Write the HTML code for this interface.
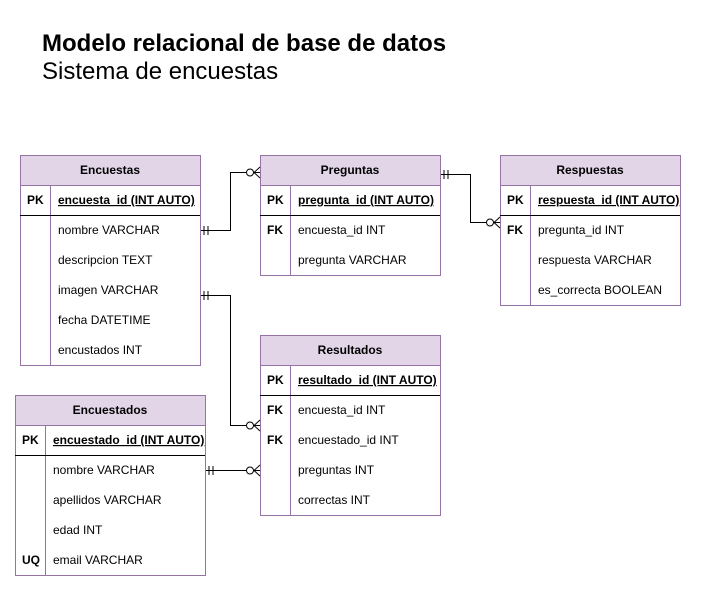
<!DOCTYPE html>
<html><head><meta charset="utf-8"><style>
body{margin:0;background:#fff;width:716px;height:591px;overflow:hidden}
svg{display:block;font-family:"Liberation Sans",Arial,sans-serif}
.h{fill:#e1d5e7;stroke:#9673a6}
.b{fill:#fff;stroke:#9673a6}
.t{font-size:12px;fill:#000}
.hd{font-size:12px;font-weight:bold;text-anchor:middle}
.k{font-size:12px;font-weight:bold}
.u{font-size:12px;font-weight:bold;text-decoration:underline}
.l{stroke:#000;fill:none;stroke-width:1}
</style></head><body>
<svg width="716" height="591" viewBox="0 0 716 591">
<text x="42" y="51" font-size="24" font-weight="bold">Modelo relacional de base de datos</text>
<text x="42" y="79" font-size="24">Sistema de encuestas</text>

<!-- Encuestas -->
<rect class="b" x="20.5" y="155.5" width="180" height="210"/>
<rect class="h" x="20.5" y="155.5" width="180" height="30"/>
<text class="hd" x="110" y="174">Encuestas</text>
<line x1="50.5" y1="185" x2="50.5" y2="365" style="stroke:#9673a6"/>
<line class="l" x1="20" y1="215.5" x2="200" y2="215.5"/>
<text class="k" x="27" y="204">PK</text><text class="u" x="58" y="204">encuesta_id (INT AUTO)</text>
<text class="t" x="58" y="234">nombre VARCHAR</text>
<text class="t" x="58" y="264">descripcion TEXT</text>
<text class="t" x="58" y="294">imagen VARCHAR</text>
<text class="t" x="58" y="324">fecha DATETIME</text>
<text class="t" x="58" y="354">encustados INT</text>

<!-- Preguntas -->
<rect class="b" x="260.5" y="155.5" width="180" height="120"/>
<rect class="h" x="260.5" y="155.5" width="180" height="30"/>
<text class="hd" x="350" y="174">Preguntas</text>
<line x1="290.5" y1="185" x2="290.5" y2="275" style="stroke:#9673a6"/>
<line class="l" x1="260" y1="215.5" x2="440" y2="215.5"/>
<text class="k" x="267" y="204">PK</text><text class="u" x="298" y="204">pregunta_id (INT AUTO)</text>
<text class="k" x="267" y="234">FK</text><text class="t" x="298" y="234">encuesta_id INT</text>
<text class="t" x="298" y="264">pregunta VARCHAR</text>

<!-- Respuestas -->
<rect class="b" x="500.5" y="155.5" width="180" height="150"/>
<rect class="h" x="500.5" y="155.5" width="180" height="30"/>
<text class="hd" x="590" y="174">Respuestas</text>
<line x1="530.5" y1="185" x2="530.5" y2="305" style="stroke:#9673a6"/>
<line class="l" x1="500" y1="215.5" x2="680" y2="215.5"/>
<text class="k" x="507" y="204">PK</text><text class="u" x="538" y="204">respuesta_id (INT AUTO)</text>
<text class="k" x="507" y="234">FK</text><text class="t" x="538" y="234">pregunta_id INT</text>
<text class="t" x="538" y="264">respuesta VARCHAR</text>
<text class="t" x="538" y="294">es_correcta BOOLEAN</text>

<!-- Resultados -->
<rect class="b" x="260.5" y="335.5" width="180" height="180"/>
<rect class="h" x="260.5" y="335.5" width="180" height="30"/>
<text class="hd" x="350" y="354">Resultados</text>
<line x1="290.5" y1="365" x2="290.5" y2="515" style="stroke:#9673a6"/>
<line class="l" x1="260" y1="395.5" x2="440" y2="395.5"/>
<text class="k" x="267" y="384">PK</text><text class="u" x="298" y="384">resultado_id (INT AUTO)</text>
<text class="k" x="267" y="414">FK</text><text class="t" x="298" y="414">encuesta_id INT</text>
<text class="k" x="267" y="444">FK</text><text class="t" x="298" y="444">encuestado_id INT</text>
<text class="t" x="298" y="474">preguntas INT</text>
<text class="t" x="298" y="504">correctas INT</text>

<!-- Encuestados -->
<rect class="b" x="15.5" y="395.5" width="190" height="180"/>
<rect class="h" x="15.5" y="395.5" width="190" height="30"/>
<text class="hd" x="110" y="414">Encuestados</text>
<line x1="45.5" y1="425" x2="45.5" y2="575" style="stroke:#9673a6"/>
<line class="l" x1="15" y1="455.5" x2="205" y2="455.5"/>
<text class="k" x="22" y="444">PK</text><text class="u" x="53" y="444">encuestado_id (INT AUTO)</text>
<text class="t" x="53" y="474">nombre VARCHAR</text>
<text class="t" x="53" y="504">apellidos VARCHAR</text>
<text class="t" x="53" y="534">edad INT</text>
<text class="k" x="22" y="564">UQ</text><text class="t" x="53" y="564">email VARCHAR</text>

<!-- connectors -->
<g class="l">
<path d="M201 230.5H230.5V172.5H246"/>
<path d="M204 226V235M208 226V235"/>
<circle cx="250" cy="172.5" r="3.5"/>
<path d="M260 167L254 172.5L260 178M254 172.5H260"/>

<path d="M441 174.5H470.5V222.5H486"/>
<path d="M444 170V179M448 170V179"/>
<circle cx="490" cy="222.5" r="3.5"/>
<path d="M500 217L494 222.5L500 228M494 222.5H500"/>

<path d="M201 295.5H230.5V425.5H246"/>
<path d="M204 291V300M208 291V300"/>
<circle cx="250" cy="425.5" r="3.5"/>
<path d="M260 420L254 425.5L260 431M254 425.5H260"/>

<path d="M206 470.5H246"/>
<path d="M209 466V475M213 466V475"/>
<circle cx="250" cy="470.5" r="3.5"/>
<path d="M260 465L254 470.5L260 476M254 470.5H260"/>
</g>
</svg>
</body></html>
